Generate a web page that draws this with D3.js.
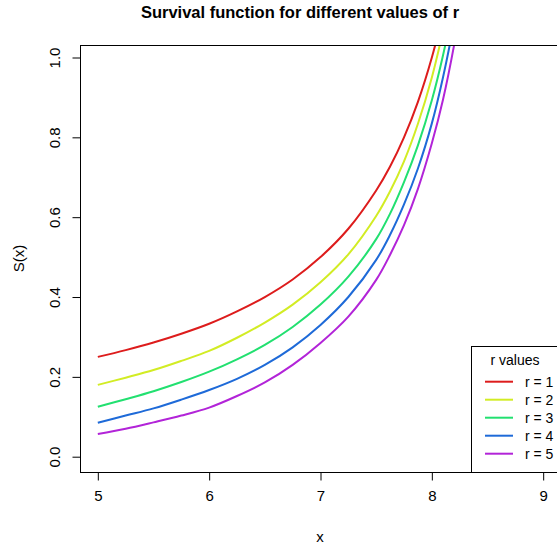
<!DOCTYPE html>
<html>
<head>
<meta charset="utf-8">
<script src="https://cdn.jsdelivr.net/npm/d3@7"></script>
<style>
  body { margin: 0; background: #fff; }
  text { font-family: "Liberation Sans", Arial, sans-serif; fill: #000; }
</style>
</head>
<body>
<div id="chart"></div>
<script>
// values
var xs = [5, 5.25, 5.5, 5.75, 6, 6.25, 6.5, 6.75, 7, 7.25, 7.5, 7.625, 7.75, 7.875, 8, 8.1, 8.2, 8.25];
var r1 = [0.25, 0.267, 0.286, 0.308, 0.333, 0.364, 0.40, 0.444, 0.50, 0.571, 0.667, 0.727, 0.80, 0.889, 1.0, 1.111, 1.25, 1.333];
var r2 = [0.18, 0.198, 0.217, 0.240, 0.265, 0.298, 0.336, 0.381, 0.437, 0.507, 0.603, 0.665, 0.74, 0.834, 0.95, 1.067, 1.206, 1.29];
var r3 = [0.125, 0.144, 0.164, 0.187, 0.213, 0.244, 0.28, 0.325, 0.381, 0.451, 0.545, 0.609, 0.688, 0.78, 0.893, 1.005, 1.141, 1.223];
var r4 = [0.085, 0.103, 0.121, 0.143, 0.167, 0.195, 0.23, 0.274, 0.33, 0.40, 0.493, 0.556, 0.632, 0.722, 0.835, 0.95, 1.088, 1.167];
var r5 = [0.057, 0.070, 0.086, 0.103, 0.123, 0.152, 0.186, 0.230, 0.285, 0.351, 0.443, 0.506, 0.58, 0.671, 0.785, 0.894, 1.031, 1.113];
var seriesNames = ["r = 1", "r = 2", "r = 3", "r = 4", "r = 5"];
var colors = ["#dd1c1c", "#d2ec24", "#22e070", "#1e6ad8", "#b224d8"];
var xTicks = [5, 6, 7, 8, 9];
var yTicks = [0.0, 0.2, 0.4, 0.6, 0.8, 1.0];

function draw(){
  var width = 557, height = 552;
  var pl = 80, pr = 561, pt = 45, pb = 472;

  var svg = d3.select("#chart").append("svg")
    .attr("width", width).attr("height", height);

  var x = d3.scaleLinear().domain([4.84, 9.16]).range([pl, pr]);
  var y = d3.scaleLinear().domain([0, 1]).range([456.7, 57.5]);

  svg.append("clipPath").attr("id", "clip")
    .append("rect").attr("x", pl).attr("y", pt)
    .attr("width", pr - pl).attr("height", pb - pt);

  var line = d3.line()
    .x(function(d) { return x(d[0]); })
    .y(function(d) { return y(d[1]); })
    .curve(d3.curveCatmullRom.alpha(0.5));

  var all = [r1, r2, r3, r4, r5];
  var g = svg.append("g").attr("clip-path", "url(#clip)");
  all.forEach(function(s, i) {
    g.append("path")
      .datum(xs.map(function(v, j) { return [v, s[j]]; }))
      .attr("d", line)
      .attr("fill", "none")
      .attr("stroke", colors[i])
      .attr("stroke-width", 2);
  });

  // box
  svg.append("rect")
    .attr("x", pl + 0.5).attr("y", pt + 0.5)
    .attr("width", pr - pl).attr("height", pb - pt)
    .attr("fill", "none").attr("stroke", "#000").attr("stroke-width", 1);

  // x axis
  var xa = svg.append("g").attr("transform", "translate(0," + (pb + 0.5) + ")")
    .call(d3.axisBottom(x).tickValues(xTicks).tickSize(8).tickPadding(10)
      .tickFormat(d3.format("d")));
  xa.select(".domain").remove();
  xa.selectAll("text").style("font-size", "15px");

  // y axis, labels turned like R does
  var ya = svg.append("g").attr("transform", "translate(" + (pl + 0.5) + ",0)")
    .call(d3.axisLeft(y).tickValues(yTicks).tickSize(8)
      .tickFormat(d3.format(".1f")));
  ya.select(".domain").remove();
  ya.selectAll("text")
    .style("font-size", "15px")
    .attr("text-anchor", "middle")
    .attr("x", 0).attr("y", 0).attr("dy", "0.35em")
    .attr("transform", "translate(-26,0) rotate(-90)");

  // titles
  svg.append("text").attr("x", 300).attr("y", 18)
    .attr("text-anchor", "middle").style("font-size", "16.5px").style("font-weight", "bold")
    .text("Survival function for different values of r");
  svg.append("text").attr("x", 320).attr("y", 542)
    .attr("text-anchor", "middle").style("font-size", "15px").text("x");
  svg.append("text").attr("transform", "translate(24," + ((pt + pb) / 2) + ") rotate(-90)")
    .attr("text-anchor", "middle").style("font-size", "15px").text("S(x)");

  // legend
  var lg = svg.append("g");
  lg.append("rect").attr("x", 471.5).attr("y", 346.5).attr("width", 100).attr("height", 126)
    .attr("fill", "#fff").attr("stroke", "#000");
  lg.append("text").attr("x", 515).attr("y", 365).attr("text-anchor", "middle")
    .style("font-size", "14px").text("r values");
  seriesNames.forEach(function(n, i) {
    var yy = 381.7 + i * 18;
    lg.append("line").attr("x1", 485).attr("x2", 513).attr("y1", yy).attr("y2", yy)
      .attr("stroke", colors[i]).attr("stroke-width", 2);
    lg.append("text").attr("x", 525).attr("y", yy).attr("dy", "0.35em")
      .style("font-size", "14px").text(n);
  });
}

draw();
</script>
</body>
</html>
